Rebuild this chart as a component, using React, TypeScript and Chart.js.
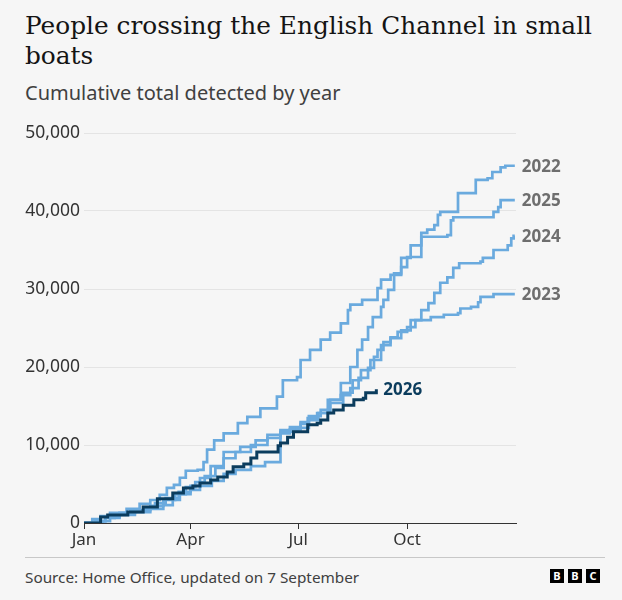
import React, { useEffect, useRef } from 'react';
import { Chart, registerables } from 'chart.js';

Chart.register(...registerables);

// ---- Data (day of year, cumulative people detected) ----
const days2026 = [0, 12, 14, 20, 37, 50, 62, 75, 84, 92, 98, 107, 113, 121, 126, 135, 141, 146, 164, 166, 172, 177, 189, 197, 200, 206, 211, 219, 228, 236, 238, 247];
const vals2026 = [0, 0, 770, 1030, 1410, 2050, 3100, 3850, 4490, 4750, 5130, 5510, 5900, 6540, 7200, 7560, 8330, 9100, 9900, 10250, 11000, 11700, 12600, 12800, 13200, 14100, 14500, 15100, 15800, 16000, 16700, 17150];

const days2022 = [0, 9, 18, 30, 43, 56, 67, 77, 86, 94, 102, 111, 118, 128, 141, 155, 166, 180, 190, 198, 206, 217, 225, 231, 235, 240, 244, 251, 253, 257, 262, 268, 276, 285, 290, 296, 299, 301, 316, 331, 341, 345, 352, 356, 364];
const vals2022 = [0, 250, 770, 1300, 1660, 2200, 2950, 3700, 4600, 5250, 6000, 7050, 8300, 9100, 10000, 10900, 11700, 12200, 13200, 14100, 15800, 17950, 20000, 22200, 23500, 25100, 26400, 27700, 28600, 29900, 32000, 34000, 35600, 37200, 37600, 38200, 39500, 39900, 42300, 44000, 44200, 45000, 45600, 45800, 45800];

const days2025 = [0, 7, 14, 22, 36, 47, 56, 64, 70, 76, 81, 86, 96, 101, 104, 110, 118, 130, 138, 149, 163, 168, 180, 183, 191, 200, 208, 217, 223, 225, 235, 248, 251, 259, 268, 273, 285, 307, 310, 312, 346, 350, 352, 364];
const vals2025 = [0, 500, 900, 1300, 1800, 2450, 2950, 3600, 4500, 4900, 5800, 6700, 6800, 7800, 9400, 10600, 11500, 12800, 13600, 14700, 16200, 18300, 18700, 20900, 22200, 23500, 24400, 25600, 27300, 28000, 28600, 30100, 31200, 31800, 32800, 34100, 36700, 36900, 38800, 39200, 39900, 40500, 41400, 41400];

const days2024 = [0, 11, 18, 26, 39, 52, 60, 69, 80, 90, 98, 107, 118, 132, 145, 155, 166, 174, 183, 190, 200, 208, 219, 227, 234, 242, 251, 259, 268, 276, 285, 291, 296, 301, 307, 312, 317, 335, 337, 346, 358, 361, 363, 364];
const vals2024 = [0, 250, 640, 1150, 1540, 1920, 2560, 3200, 4000, 4750, 5770, 7300, 9100, 9750, 10600, 11300, 11900, 12300, 12950, 13700, 14500, 15400, 16700, 18300, 19600, 20900, 22800, 23700, 24700, 26000, 27300, 28200, 29500, 30800, 31500, 32700, 33300, 33500, 34000, 35000, 35600, 36500, 36800, 36800];

const days2023 = [0, 16, 22, 30, 43, 56, 67, 75, 81, 90, 98, 108, 118, 128, 141, 153, 166, 174, 183, 189, 197, 208, 217, 225, 232, 240, 245, 248, 253, 259, 265, 273, 280, 293, 304, 316, 318, 327, 333, 335, 346, 364];
const vals2023 = [0, 250, 640, 1030, 1400, 1800, 2300, 2950, 3700, 4250, 4750, 5400, 6300, 6800, 7300, 7800, 11500, 12000, 12700, 13450, 14100, 15800, 16400, 17300, 18600, 19900, 21300, 22200, 23200, 23800, 24500, 25100, 26000, 26400, 26700, 26900, 27500, 27700, 28300, 29000, 29350, 29350];

const tickDays = [0, 90, 181, 273];
const tickLabels = ['Jan', 'Apr', 'Jul', 'Oct'];

const LIGHT = '#6aaade';
const DARK = '#0b3c5d';
const GREY_LABEL = '#6e6e6e';
const SANS = '"Noto Sans", "DejaVu Sans", sans-serif';

const toPoints = (d: number[], v: number[]) => d.map((x, i) => ({ x, y: v[i] }));

const endLabels = {
  id: 'endLabels',
  afterDatasetsDraw(chart: any) {
    const ctx = chart.ctx;
    chart.data.datasets.forEach((ds: any) => {
      const last = ds.data[ds.data.length - 1];
      const x = chart.scales.x.getPixelForValue(last.x) + 7;
      const y = chart.scales.y.getPixelForValue(last.y);
      ctx.save();
      ctx.font = 'bold 17px ' + SANS;
      ctx.fillStyle = ds.labelColor;
      ctx.textAlign = 'left';
      ctx.textBaseline = 'middle';
      ctx.fillText(ds.label, x, y + 1);
      ctx.restore();
    });
  },
};

function ChannelChart() {
  const ref = useRef<HTMLCanvasElement | null>(null);
  useEffect(() => {
    if (!ref.current) return;
    const mk = (label: string, d: number[], v: number[], color: string, labelColor: string, width: number, order: number) => ({
      label,
      data: toPoints(d, v),
      borderColor: color,
      backgroundColor: color,
      borderWidth: width,
      pointRadius: 0,
      stepped: 'before' as const,
      fill: false,
      order,
      labelColor,
      borderJoinStyle: 'miter' as const,
    });
    const chart = new Chart(ref.current, {
      type: 'line',
      data: {
        datasets: [
          mk('2026', days2026, vals2026, DARK, DARK, 3, 0),
          mk('2022', days2022, vals2022, LIGHT, GREY_LABEL, 2.7, 1),
          mk('2025', days2025, vals2025, LIGHT, GREY_LABEL, 2.7, 1),
          mk('2024', days2024, vals2024, LIGHT, GREY_LABEL, 2.7, 1),
          mk('2023', days2023, vals2023, LIGHT, GREY_LABEL, 2.7, 1),
        ] as any,
      },
      options: {
        animation: false,
        responsive: true,
        maintainAspectRatio: false,
        layout: { padding: { left: 25, right: 106, top: 23, bottom: 0 } },
        plugins: { legend: { display: false }, tooltip: { enabled: false } },
        events: [],
        scales: {
          x: {
            type: 'linear',
            min: 0,
            max: 365,
            afterFit: (s: any) => { s.height = 27; },
            afterBuildTicks: (s: any) => { s.ticks = tickDays.map((v) => ({ value: v })); },
            ticks: {
              autoSkip: false,
              maxRotation: 0,
              padding: 1,
              color: '#333333',
              font: { family: SANS, size: 17 },
              callback: (v: any) => { const i = tickDays.indexOf(Number(v)); return i >= 0 ? tickLabels[i] : ''; },
            },
            grid: { drawOnChartArea: false, drawTicks: true, tickLength: 6, color: '#333333', lineWidth: 1 },
            border: { display: true, color: '#333333', width: 1 },
          },
          y: {
            type: 'linear',
            min: 0,
            max: 50000,
            afterFit: (s: any) => { s.width = 59; },
            ticks: {
              stepSize: 10000,
              padding: 4,
              color: '#333333',
              font: { family: SANS, size: 17.5 },
              callback: (v: any) => Number(v).toLocaleString('en-US'),
            },
            grid: { color: '#e4e4e4', lineWidth: 1, drawTicks: false },
            border: { display: false },
          },
        },
      },
      plugins: [endLabels],
    });
    return () => chart.destroy();
  }, []);
  return (
    <div style={{ position: 'absolute', left: 0, top: 110, width: 622, height: 440 }}>
      <canvas ref={ref} />
    </div>
  );
}

export default function App() {
  return (
    <div style={{ position: 'absolute', left: 0, top: 0, width: 622, height: 600, background: '#f6f6f6', overflow: 'hidden' }}>
      <div style={{ position: 'absolute', left: 25, top: 11, width: 590, fontFamily: '"DejaVu Serif", serif', fontSize: 24.8, lineHeight: '30px', color: '#141414' }}>
        People crossing the English Channel in small boats
      </div>
      <div style={{ position: 'absolute', left: 25, top: 80, fontFamily: SANS, fontSize: 20, lineHeight: '26px', color: '#404040' }}>
        Cumulative total detected by year
      </div>
      <ChannelChart />
      <div style={{ position: 'absolute', left: 25, top: 557, width: 580, height: 1, background: '#c8c8c8' }} />
      <div style={{ position: 'absolute', left: 25, top: 567, fontFamily: SANS, fontSize: 15.3, lineHeight: '20px', color: '#404040' }}>
        Source: Home Office, updated on 7 September
      </div>
      <div style={{ position: 'absolute', left: 550, top: 569, display: 'flex', gap: 4 }}>
        {['B', 'B', 'C'].map((c, i) => (
          <div key={i} style={{ width: 14, height: 14, background: '#000', color: '#fff', fontFamily: SANS, fontWeight: 'bold', fontSize: 11, lineHeight: '14px', textAlign: 'center' }}>{c}</div>
        ))}
      </div>
    </div>
  );
}
